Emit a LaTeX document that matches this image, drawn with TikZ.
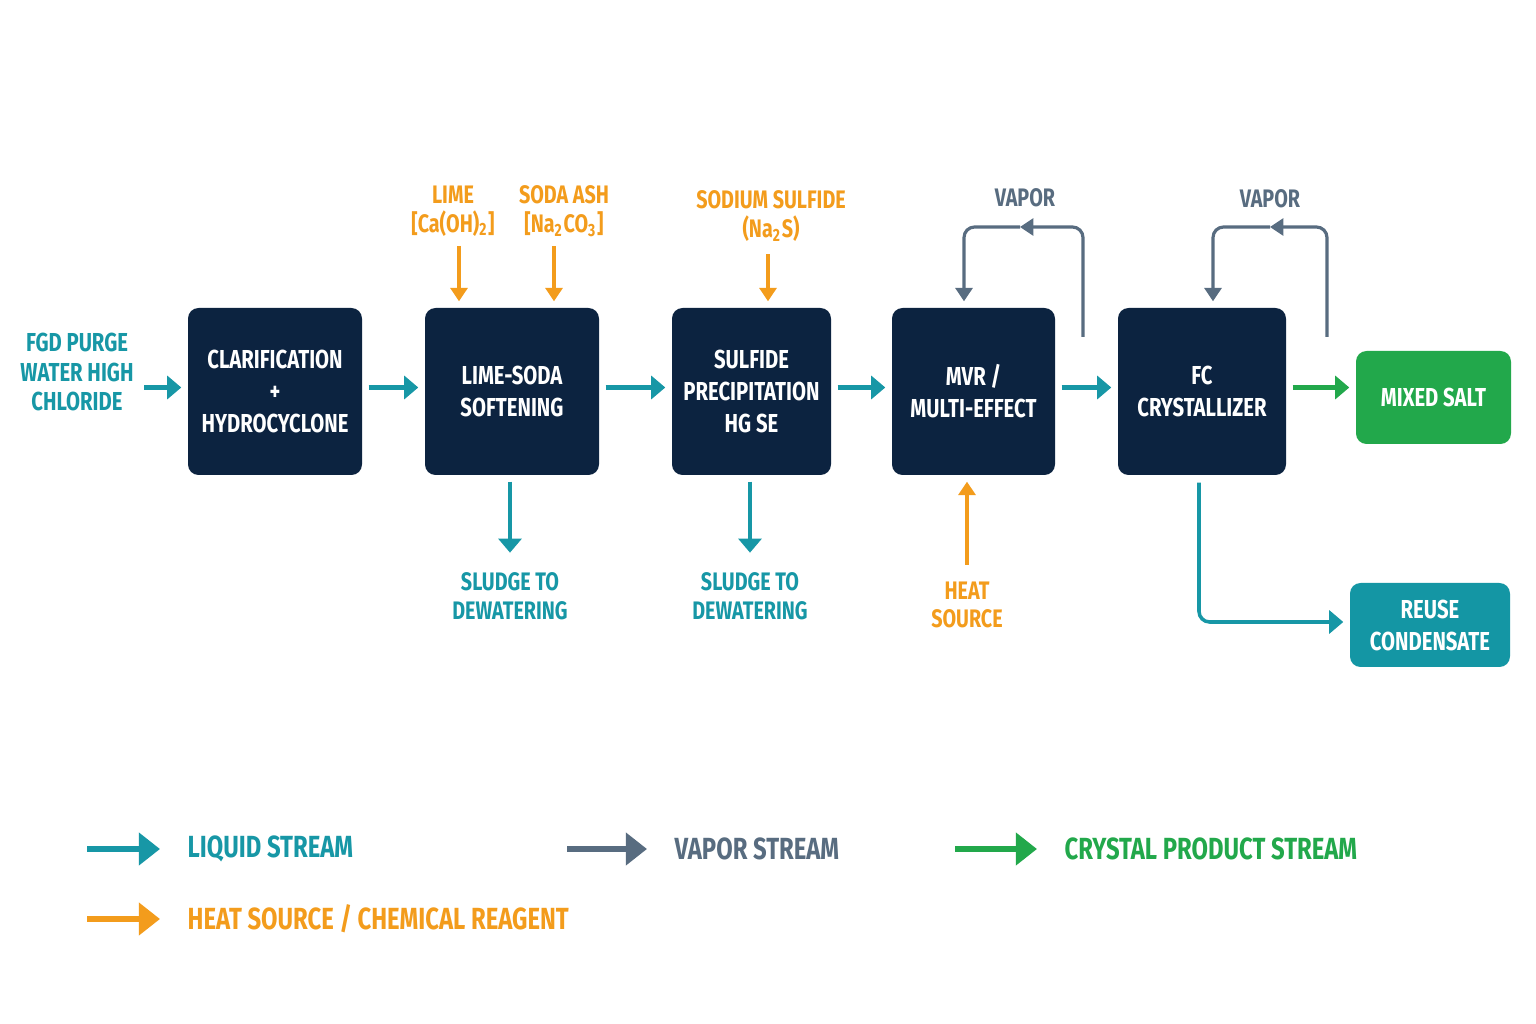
\documentclass[tikz,border=0pt]{standalone}
\usepackage{fontspec}
\newfontfamily\dinfont{Fira Sans}[FakeStretch=0.78]
\usepackage{tikz}
\usetikzlibrary{arrows.meta,positioning,calc}
\definecolor{boxc}{HTML}{0C2340}
\definecolor{liqc}{HTML}{1797A6}
\definecolor{vapc}{HTML}{586C80}
\definecolor{heatc}{HTML}{F39C1C}
\definecolor{crysc}{HTML}{22A84B}
\definecolor{reusec}{HTML}{1496A4}

\begin{document}
\begin{tikzpicture}[x=0.1mm,y=-0.1mm,
  unit/.style={fill=#1,rounded corners=3pt,text=white,align=center,inner sep=0pt,
    font=\dinfont\bfseries\fontsize{7.4}{9.1}\selectfont,minimum height=16.7mm},
  unit/.default=boxc,
  lbl/.style={align=center,inner sep=0pt,font=\dinfont\bfseries\fontsize{7.2}{8.2}\selectfont},
  leg/.style={anchor=west,inner sep=0pt,font=\dinfont\bfseries\fontsize{8.7}{9}\selectfont},
  flow/.style={draw=#1,line width=1.3pt,-{Triangle[length=4pt,width=6.5pt]},shorten <=0.6mm,shorten >=0.6mm},
  thin/.style={draw=#1,line width=0.9pt,-{Triangle[length=3.8pt,width=4.8pt]}},
  legarr/.style={draw=#1,line width=1.5pt,-{Triangle[length=6pt,width=9pt]},shorten >=2.7mm}]
\fill[white] (0,0) rectangle (1536,1024);
\useasboundingbox (0,0) rectangle (1536,1024);

% process units
\node[unit,minimum width=17.4mm] (clar) at (275,391.5) {CLARIFICATION\\+\\HYDROCYCLONE};
\node[unit,minimum width=17.4mm] (lime) at (512,391.5) {LIME-SODA\\SOFTENING};
\node[unit,minimum width=15.9mm] (sulf) at (751.5,391.5) {SULFIDE\\PRECIPITATION\\HG SE};
\node[unit,minimum width=16.3mm] (mvr) at (973.5,391.5) {MVR /\\MULTI-EFFECT};
\node[unit,minimum width=16.8mm] (fc) at (1202,391.5) {FC\\CRYSTALLIZER};
\node[unit=crysc,minimum width=15.5mm,minimum height=9.3mm] (salt) at (1433.5,397.5) {MIXED SALT};
\node[unit=reusec,minimum width=16mm,minimum height=8.4mm] (reuse) at (1430,625) {REUSE\\CONDENSATE};

% feed and main line
\node[lbl,text=liqc,font=\dinfont\bfseries\fontsize{7.4}{8.4}\selectfont] (feed) at (77,372) {FGD PURGE\\WATER HIGH\\CHLORIDE};
\draw[flow=liqc,shorten <=1mm] ([yshift=0.4mm]clar.west -| feed.east) -- ([yshift=0.4mm]clar.west);
\draw[flow=liqc] ([yshift=0.4mm]clar.east) -- ([yshift=0.4mm]lime.west);
\draw[flow=liqc] ([yshift=0.4mm]lime.east) -- ([yshift=0.4mm]sulf.west);
\draw[flow=liqc] ([yshift=0.4mm]sulf.east) -- ([yshift=0.4mm]mvr.west);
\draw[flow=liqc] ([yshift=0.4mm]mvr.east) -- ([yshift=0.4mm]fc.west);
\draw[flow=crysc] ([yshift=0.4mm]fc.east) -- ([yshift=0.4mm]fc.east -| salt.west);

% reagents
\node[lbl,text=heatc] (limeR) at (453,211) {LIME\\{[}Ca(OH)\textsubscript{2}{]}};
\node[lbl,text=heatc] (sodaR) at (564,211) {SODA ASH\\{[}Na\textsubscript{2}CO\textsubscript{3}{]}};
\node[lbl,text=heatc] (sulfR) at (771,216) {SODIUM SULFIDE\\(Na\textsubscript{2}S)};
\draw[thin=heatc,shorten <=0.9mm,shorten >=0.6mm] ([xshift=0.6mm]limeR.south) -- ([xshift=0.6mm]limeR.south |- lime.north);
\draw[thin=heatc,shorten <=0.9mm,shorten >=0.6mm] ([xshift=-1mm]sodaR.south) -- ([xshift=-1mm]sodaR.south |- lime.north);
\draw[thin=heatc,shorten <=1.2mm,shorten >=0.6mm] ([xshift=-0.3mm]sulfR.south) -- ([xshift=-0.3mm]sulfR.south |- sulf.north);

% sludge and heat
\node[lbl,text=liqc] (sl1) at (510,596) {SLUDGE TO\\DEWATERING};
\node[lbl,text=liqc] (sl2) at (750,596) {SLUDGE TO\\DEWATERING};
\node[lbl,text=heatc] (heat) at (967,605) {HEAT\\SOURCE};
\draw[flow=liqc,shorten >=1.9mm] (sl1.north |- lime.south) -- (sl1.north);
\draw[flow=liqc,shorten >=1.9mm] (sl2.north |- sulf.south) -- (sl2.north);
\draw[thin=heatc,line width=1.1pt,shorten <=1.6mm,shorten >=0.6mm] (heat.north) -- (heat.north |- mvr.south);

% vapor recycle loops
\node[lbl,text=vapc] (vap1) at (1025,198) {VAPOR};
\node[lbl,text=vapc] (vap2) at (1270,199) {VAPOR};
\coordinate (v1o) at (1083,337);
\coordinate (v1m) at (1020,227);
\coordinate (v2o) at (1327,337);
\coordinate (v2m) at (1270,227);
\draw[thin=vapc,rounded corners=3pt] (v1o) |- (v1m);
\draw[thin=vapc,rounded corners=3pt,shorten >=0.6mm] (v1m) -| ([xshift=-0.95mm]mvr.north);
\draw[thin=vapc,rounded corners=3pt] (v2o) |- (v2m);
\draw[thin=vapc,rounded corners=3pt,shorten >=0.6mm] (v2m) -| ([xshift=1.1mm]fc.north);

% condensate
\draw[flow=liqc,line width=1pt,rounded corners=3pt,shorten <=0.7mm] ([xshift=-0.3mm]fc.south) |- ([yshift=0.3mm]reuse.west);

% legend
\node[leg,text=liqc] (lgliq) at (187,849) {LIQUID STREAM};
\node[leg,text=vapc] (lgvap) at (674,849) {VAPOR STREAM};
\node[leg,text=crysc] (lgcry) at (1064,849) {CRYSTAL PRODUCT STREAM};
\node[leg,text=heatc] (lgheat) at (187,919) {HEAT SOURCE / CHEMICAL REAGENT};
\draw[legarr=liqc] ([xshift=-10mm]lgliq.west) -- (lgliq.west);
\draw[legarr=vapc] ([xshift=-10.7mm]lgvap.west) -- (lgvap.west);
\draw[legarr=crysc] ([xshift=-10.9mm]lgcry.west) -- (lgcry.west);
\draw[legarr=heatc] ([xshift=-10mm]lgheat.west) -- (lgheat.west);
\end{tikzpicture}
\end{document}
